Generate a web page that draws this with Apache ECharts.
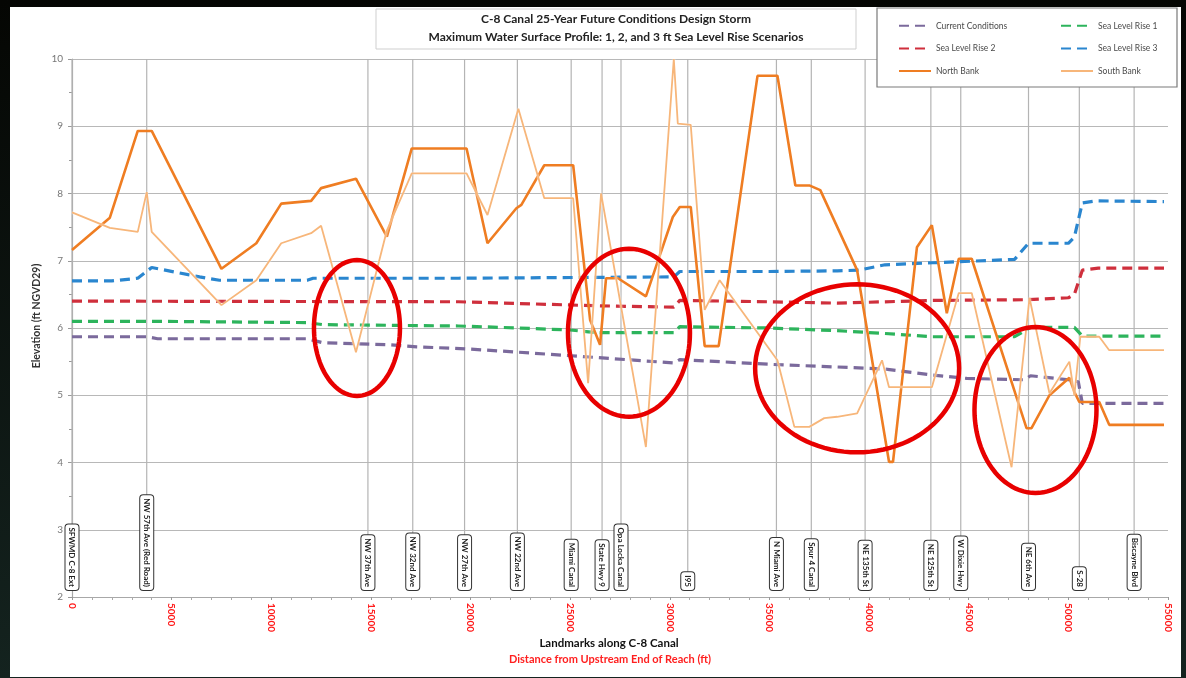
<!DOCTYPE html>
<html>
<head>
<meta charset="utf-8">
<title>C-8 Canal Water Surface Profile</title>
<script src="https://cdn.jsdelivr.net/npm/echarts@6/dist/echarts.min.js"></script>
<style>
  html, body { margin: 0; padding: 0; background: #070a05; }
  #chart { width: 1186px; height: 678px; }
</style>
</head>
<body>
<div id="chart"></div>
<script>
// Water surface elevations (ft NGVD29) against distance from upstream end of reach (ft)
const currentConditions = [[0,5.87],[3750,5.87],[4300,5.84],[11800,5.84],[12600,5.78],[16000,5.75],[17300,5.72],[19800,5.69],[22400,5.64],[26400,5.56],[30200,5.48],[30500,5.53],[35000,5.46],[38400,5.42],[40800,5.39],[43200,5.30],[44900,5.25],[47800,5.23],[48100,5.29],[50000,5.23],[50500,5.20],[50700,4.88],[54800,4.88]];
const seaLevelRise1 = [[0,6.10],[4000,6.10],[11800,6.08],[12600,6.05],[19400,6.03],[22400,6.00],[25000,5.97],[26400,5.93],[30200,5.93],[30500,6.02],[35000,6.00],[38400,5.96],[40700,5.92],[43200,5.87],[47300,5.87],[48100,6.01],[50300,6.01],[50700,5.88],[54800,5.88]];
const seaLevelRise2 = [[0,6.40],[19400,6.39],[26400,6.33],[30200,6.31],[30500,6.41],[35000,6.39],[38400,6.37],[43200,6.41],[47800,6.42],[50000,6.45],[50300,6.50],[50700,6.86],[51500,6.89],[54800,6.89]];
const seaLevelRise3 = [[0,6.70],[2000,6.70],[3300,6.74],[4000,6.90],[6400,6.76],[7400,6.71],[11800,6.71],[12100,6.74],[19400,6.74],[30200,6.76],[30500,6.84],[35000,6.84],[38400,6.85],[39500,6.86],[40800,6.94],[43200,6.97],[47300,7.02],[48000,7.26],[50000,7.26],[50300,7.35],[50700,7.86],[51400,7.89],[54800,7.88]];
const northBank = [[0,7.16],[1900,7.64],[3300,8.93],[4000,8.93],[7500,6.88],[9250,7.26],[10500,7.85],[12000,7.89],[12500,8.08],[14250,8.22],[15800,7.36],[17050,8.67],[19800,8.67],[20850,7.26],[22300,7.78],[22550,7.83],[23700,8.42],[25150,8.42],[26000,6.12],[26500,5.75],[26800,6.74],[27400,6.74],[28800,6.47],[30150,7.65],[30500,7.80],[31050,7.80],[31750,5.73],[32450,5.73],[34400,9.75],[35400,9.75],[36300,8.12],[37000,8.12],[37550,8.05],[39400,6.86],[41000,4.01],[41200,4.01],[42400,7.20],[43150,7.53],[43900,6.22],[44500,7.03],[45150,7.03],[47900,4.51],[48150,4.51],[49050,5.00],[50050,5.26],[50300,5.05],[50550,4.90],[51550,4.90],[52050,4.56],[54800,4.56]];
const southBank = [[0,7.72],[1900,7.49],[3300,7.43],[3750,8.02],[4000,7.43],[7500,6.34],[9250,6.71],[10500,7.26],[12000,7.41],[12500,7.52],[14250,5.64],[15800,7.45],[17050,8.30],[19800,8.30],[20850,7.68],[22400,9.26],[23700,7.93],[25150,7.93],[25900,5.18],[26550,8.00],[28800,4.23],[30200,10.0],[30400,9.04],[31050,9.02],[31750,6.27],[32500,6.71],[35400,5.52],[36250,4.53],[37000,4.53],[37750,4.66],[38400,4.68],[39400,4.73],[40650,5.52],[41000,5.12],[43150,5.12],[44500,6.52],[45150,6.52],[47150,3.93],[48050,6.45],[49050,5.03],[50050,5.50],[50300,5.00],[50600,5.87],[51550,5.87],[52050,5.67],[54800,5.67]];

// Landmarks along the canal
const landmarkNames = ['SFWMD C-8 Ext','NW 57th Ave (Red Road)','NW 37th Ave','NW 32nd Ave','NW 27th Ave','NW 22nd Ave','Miami Canal','State Hwy 9','Opa Locka Canal','I95','N Miami Ave','Spur 4 Canal','NE 135th St','NE 125th St','W Dixie Hwy','NE 6th Ave','S-28','Biscayne Blvd'];
const landmarkPositions = [0,3750,14850,17100,19700,22350,25050,26600,27550,30900,35350,37100,39800,43100,44600,48000,50550,53300];

// Axis ranges
const xTicks = { min: 0, max: 55000, interval: 5000 };
const yTicks = { min: 2, max: 10, interval: 1 };

// Highlighted reaches: centre (ft, elevation) and radii in px
const highlights = [[14300,6.00,43,68],[27950,5.93,61,84],[39400,5.40,102,84],[48350,4.78,61,83]];

const FONT = 'Lato, "Open Sans", sans-serif';
const chart = echarts.init(document.getElementById('chart'), null, { renderer: 'canvas' });

function dashed(name, data, color) {
  return {
    name, type: 'line', data, symbol: 'none', z: 3,
    lineStyle: { color, width: 3.2, type: [10, 6] },
    itemStyle: { color }
  };
}

const legendText = { fontSize: 8.5, color: '#4a4a4a', fontFamily: FONT };

const option = {
  backgroundColor: {
    type: 'linear', x: 0, y: 0, x2: 0, y2: 1,
    colorStops: [{ offset: 0, color: '#050603' }, { offset: 1, color: '#14231f' }]
  },
  animation: false,
  grid: { left: 72, right: 18, top: 59, bottom: 81 },
  xAxis: {
    type: 'value', min: xTicks.min, max: xTicks.max, interval: xTicks.interval,
    axisLine: { show: true, lineStyle: { color: '#a8a8a8', width: 1.2 } },
    axisTick: { show: true, length: 3, lineStyle: { color: '#999' } },
    minorTick: { show: true, splitNumber: 5, length: 3, lineStyle: { color: '#aaa' } },
    splitLine: { show: false },
    axisLabel: {
      rotate: -90, margin: 6, color: '#ff1c1c', fontSize: 10, fontWeight: 'bold', fontFamily: FONT,
      formatter: v => String(v)
    }
  },
  yAxis: {
    type: 'value', min: yTicks.min, max: yTicks.max, interval: yTicks.interval,
    axisLine: { show: true, lineStyle: { color: '#a8a8a8', width: 1.2 } },
    axisTick: { show: true, length: 4, lineStyle: { color: '#999' } },
    minorTick: { show: true, splitNumber: 2, length: 3, lineStyle: { color: '#999' } },
    splitLine: { show: true, lineStyle: { color: '#b8b8b8', width: 1.2 } },
    axisLabel: { color: '#777', fontSize: 10, fontFamily: FONT, margin: 9 }
  },
  legend: [
    {
      left: 893, top: 16, orient: 'vertical', itemGap: 13, itemWidth: 32, itemHeight: 12, z: 30,
      itemStyle: { opacity: 0 },
      textStyle: legendText,
      data: ['Current Conditions', 'Sea Level Rise 2', 'North Bank']
    },
    {
      left: 1055, top: 16, orient: 'vertical', itemGap: 13, itemWidth: 32, itemHeight: 12, z: 30,
      itemStyle: { opacity: 0 },
      textStyle: legendText,
      data: ['Sea Level Rise 1', 'Sea Level Rise 3', 'South Bank']
    }
  ],
  series: [
    {
      name: 'Landmarks', type: 'custom', coordinateSystem: 'cartesian2d', z: 1, silent: true, clip: false,
      data: landmarkPositions.map(x => [x, yTicks.min]),
      renderItem: function (params, api) {
        const x = api.value(0);
        const top = api.coord([x, yTicks.max]);
        const bottom = api.coord([x, yTicks.min]);
        return {
          type: 'group',
          children: [
            { type: 'line', shape: { x1: top[0], y1: top[1], x2: top[0], y2: bottom[1] - 9 },
              style: { stroke: '#b4b4b4', lineWidth: 1.2 } },
            { type: 'text', x: top[0], y: bottom[1] - 7, rotation: -Math.PI / 2,
              style: {
                text: landmarkNames[params.dataIndex], align: 'right', verticalAlign: 'middle',
                fill: '#222', font: 'bold 8px ' + FONT,
                backgroundColor: '#fff', borderColor: '#333', borderWidth: 1, borderRadius: 3,
                padding: [3, 3, 2, 3]
              } }
          ]
        };
      }
    },
    dashed('Current Conditions', currentConditions, '#7b6a9c'),
    dashed('Sea Level Rise 1', seaLevelRise1, '#2db45c'),
    dashed('Sea Level Rise 2', seaLevelRise2, '#cf2f3c'),
    dashed('Sea Level Rise 3', seaLevelRise3, '#2a86cf'),
    {
      name: 'North Bank', type: 'line', data: northBank, symbol: 'none', z: 4,
      lineStyle: { color: '#ef7d22', width: 2.6 }, itemStyle: { color: '#ef7d22' }
    },
    {
      name: 'South Bank', type: 'line', data: southBank, symbol: 'none', z: 5,
      lineStyle: { color: '#f7b67a', width: 1.8, shadowColor: 'rgba(255,255,255,0.9)', shadowBlur: 2 },
      itemStyle: { color: '#f7b67a' }
    }
  ],
  graphic: [
    { type: 'rect', z: -100, shape: { x: 10, y: 7, width: 1171, height: 670 }, style: { fill: '#fff' } },
    { type: 'rect', z: 10, shape: { x: 376, y: 9, width: 480, height: 40 },
      style: { fill: '#fff', stroke: '#cfcfcf', lineWidth: 1 } },
    { type: 'text', z: 11, x: 616, y: 19,
      style: { text: 'C-8 Canal 25-Year Future Conditions Design Storm', align: 'center', verticalAlign: 'middle',
               font: 'bold 12px ' + FONT, fill: '#222' } },
    { type: 'text', z: 11, x: 616, y: 37,
      style: { text: 'Maximum Water Surface Profile: 1, 2, and 3 ft Sea Level Rise Scenarios', align: 'center',
               verticalAlign: 'middle', font: 'bold 12px ' + FONT, fill: '#222' } },
    { type: 'rect', z: 3, shape: { x: 877, y: 8, width: 300, height: 79 },
      style: { fill: '#fff', stroke: '#7a7a7a', lineWidth: 1.2 } },
    { type: 'text', x: 609, y: 643,
      style: { text: 'Landmarks along C-8 Canal', align: 'center', verticalAlign: 'middle',
               font: 'bold 11.5px ' + FONT, fill: '#111' } },
    { type: 'text', x: 610, y: 659,
      style: { text: 'Distance from Upstream End of Reach (ft)', align: 'center', verticalAlign: 'middle',
               font: 'bold 11px ' + FONT, fill: '#ff2020' } },
    { type: 'text', x: 37, y: 316, rotation: Math.PI / 2,
      style: { text: 'Elevation (ft NGVD29)', align: 'center', verticalAlign: 'middle',
               font: 'bold 10.5px ' + FONT, fill: '#333' } }
  ]
};

chart.setOption(option);

// Red ellipses marking the reaches where bank elevations fall below the design water surface
function ellipsePoints(cx, cy, rx, ry) {
  const pts = [];
  for (let i = 0; i < 96; i++) {
    const t = (i / 96) * Math.PI * 2;
    pts.push([cx + rx * Math.cos(t), cy + ry * Math.sin(t)]);
  }
  return pts;
}
const rings = highlights.map(h => {
  const c = chart.convertToPixel({ gridIndex: 0 }, [h[0], h[1]]);
  return { type: 'polygon', z: 20, silent: true, shape: { points: ellipsePoints(c[0], c[1], h[2], h[3]) },
           style: { fill: null, stroke: '#e80000', lineWidth: 4.5 } };
});
chart.setOption({ graphic: option.graphic.concat(rings) });
</script>
</body>
</html>
